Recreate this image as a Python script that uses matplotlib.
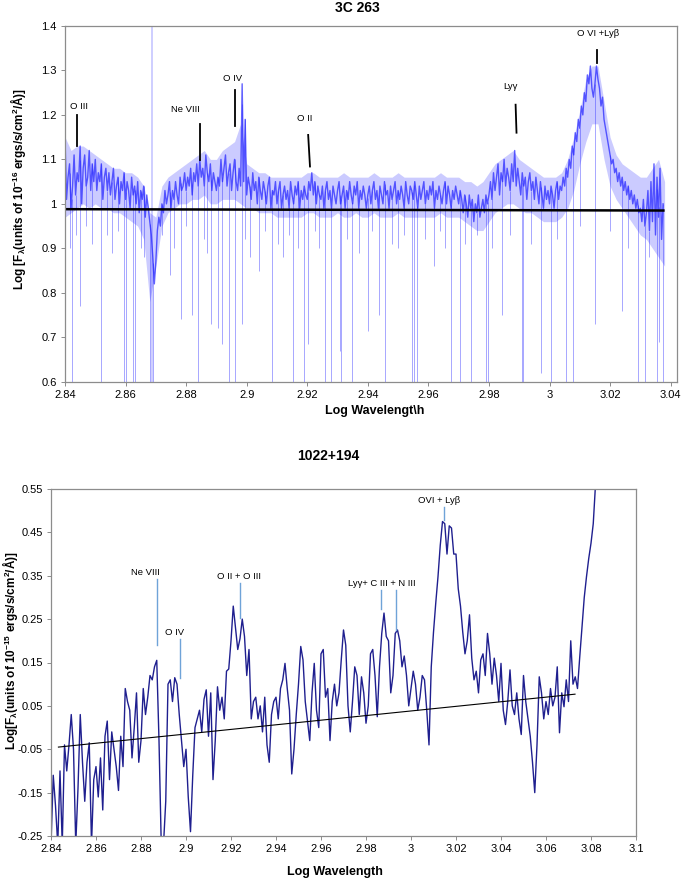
import numpy as np
import matplotlib
matplotlib.use('Agg')
import matplotlib.pyplot as plt
from matplotlib.ticker import MultipleLocator, FuncFormatter

plt.rcParams['font.family'] = 'Liberation Sans'
plt.rcParams['mathtext.fontset'] = 'custom'
plt.rcParams['mathtext.rm'] = 'Liberation Sans:bold'
plt.rcParams['mathtext.it'] = 'Liberation Sans:bold'
plt.rcParams['mathtext.bf'] = 'Liberation Sans:bold'
plt.rcParams['mathtext.default'] = 'regular'

# ---- 3C 263 (top) : log wavelength 2.8400 .. 3.0375, step 0.0005
top_wl_start = 2.84
top_wl_step = 0.0005
top_flux = [
    1.15, 1.01, 1.06, 1.09, 0.99, 1.04, 1.11, 1.02, 1.07, 1.05, 1.13, 1.00, 1.08, 1.11, 1.04, 1.06, 1.12, 1.03, 1.09, 1.05,
    1.10, 1.03, 1.07, 1.05, 1.09, 1.01, 1.06, 1.08, 1.03, 1.07, 1.02, 1.05, 1.08, 1.01, 1.04, 1.06, 1.00, 1.05, 1.03, 1.07,
    1.01, 1.05, 1.03, 0.99, 1.06, 1.02, 1.04, 1.00, 1.05, 0.98, 1.03, 1.01, 1.04, 0.97, 1.02, 0.99, 0.96, 0.93, 0.88, 0.82,
    0.87, 0.94, 0.97, 0.95, 1.00, 0.98, 1.03, 1.00, 1.02, 1.05, 0.99, 1.03, 1.01, 1.05, 1.02, 1.00, 1.06, 1.03, 1.04, 1.07,
    1.03, 1.06, 1.04, 1.08, 1.02, 1.07, 1.05, 1.09, 1.04, 1.10, 1.06, 1.08, 1.04, 1.11, 1.07, 1.05, 1.09, 1.03, 1.07, 1.05,
    1.03, 1.06, 1.04, 1.10, 1.05, 1.08, 1.11, 1.04, 1.07, 1.09, 1.03, 1.07, 1.10, 1.05, 1.03, 1.08, 1.04, 1.27, 1.05, 1.19,
    1.02, 1.06, 1.04, 1.01, 1.07, 1.03, 1.05, 1.00, 1.06, 1.03, 1.01, 1.05, 1.03, 1.00, 1.04, 1.06, 0.99, 1.03, 1.02, 1.05,
    1.00, 1.03, 1.05, 0.99, 1.02, 1.04, 1.01, 1.03, 0.99, 1.05, 1.02, 1.00, 1.04, 1.02, 1.05, 0.99, 1.03, 1.01, 1.04, 1.02,
    1.01, 1.05, 1.03, 1.07, 1.02, 1.05, 1.00, 1.04, 1.02, 1.01, 1.04, 0.99, 1.03, 1.05, 1.01, 1.03, 0.99, 1.04, 1.02, 1.00,
    1.03, 1.05, 1.00, 1.02, 1.04, 0.99, 1.03, 1.01, 1.05, 1.02, 1.00, 1.04, 1.02, 1.05, 0.99, 1.03, 1.01, 1.04, 1.02, 0.99,
    1.02, 1.04, 1.00, 1.03, 1.05, 1.01, 1.03, 0.99, 1.04, 1.02, 1.00, 1.05, 1.02, 1.03, 0.99, 1.04, 1.01, 1.03, 1.05, 1.00,
    1.03, 1.01, 1.04, 1.02, 0.99, 1.05, 1.02, 1.00, 1.04, 1.03, 1.01, 1.05, 1.02, 0.99, 1.04, 1.01, 1.03, 1.05, 1.00, 1.03,
    1.01, 1.04, 1.02, 1.05, 0.99, 1.03, 1.01, 1.04, 1.02, 1.00, 1.03, 1.05, 1.00, 1.04, 1.02, 0.99, 1.03, 1.01, 1.04, 1.02,
    1.00, 1.03, 1.01, 0.98, 1.02, 1.00, 0.97, 1.02, 0.99, 1.01, 0.96, 1.00, 0.98, 1.02, 0.97, 0.99, 1.01, 0.98, 1.02, 1.00,
    1.02, 1.05, 1.01, 1.07, 1.03, 1.06, 1.09, 1.02, 1.07, 1.05, 1.10, 1.04, 1.08, 1.06, 1.03, 1.09, 1.05, 1.12, 1.04, 1.08,
    1.05, 1.02, 1.07, 1.04, 1.06, 1.01, 1.05, 1.07, 1.03, 1.05, 1.01, 1.06, 1.03, 1.00, 1.05, 1.02, 0.99, 1.04, 1.01, 1.03,
    1.00, 1.04, 1.02, 0.99, 1.03, 1.05, 1.01, 1.04, 1.03, 1.06, 1.04, 1.08, 1.06, 1.10, 1.08, 1.13, 1.11, 1.16, 1.14, 1.19,
    1.17, 1.22, 1.20, 1.25, 1.23, 1.29, 1.27, 1.31, 1.26, 1.24, 1.27, 1.31, 1.28, 1.26, 1.22, 1.24, 1.19, 1.17, 1.15, 1.13,
    1.11, 1.09, 1.10, 1.07, 1.08, 1.05, 1.07, 1.04, 1.06, 1.03, 1.05, 1.02, 1.04, 1.01, 1.03, 1.00, 1.02, 0.99, 1.01, 0.98,
    0.99, 0.96, 1.01, 0.95, 0.98, 1.03, 0.94, 1.05, 0.96, 1.09, 0.93, 1.06, 0.97, 1.08, 0.92, 1.00,
]

# outer noise envelope of the 3C 263 spectrum, step 0.002 from 2.840
top_env_step = 0.002
top_env_hi = [
    1.15, 1.12, 1.13, 1.13, 1.12, 1.11, 1.10, 1.09, 1.08, 1.08,
    1.07, 1.07, 1.06, 1.04, 0.98, 0.97, 1.04, 1.06, 1.07, 1.08,
    1.09, 1.10, 1.11, 1.12, 1.10, 1.10, 1.12, 1.13, 1.14, 1.18,
    1.09, 1.08, 1.07, 1.07, 1.06, 1.06, 1.06, 1.06, 1.06, 1.06,
    1.07, 1.07, 1.06, 1.06, 1.06, 1.06, 1.07, 1.06, 1.06, 1.06,
    1.06, 1.07, 1.06, 1.06, 1.06, 1.07, 1.06, 1.06, 1.06, 1.06,
    1.06, 1.06, 1.07, 1.06, 1.06, 1.06, 1.05, 1.05, 1.04, 1.05,
    1.07, 1.09, 1.10, 1.11, 1.12, 1.10, 1.09, 1.08, 1.07, 1.06,
    1.06, 1.06, 1.07, 1.10, 1.15, 1.21, 1.28, 1.31, 1.31, 1.23,
    1.15, 1.11, 1.09, 1.08, 1.07, 1.06, 1.06, 1.08, 1.10, 1.05,
]
top_env_lo = [
    0.97, 0.98, 0.99, 1.00, 0.99, 1.00, 0.99, 0.99, 0.98, 0.98,
    0.97, 0.96, 0.95, 0.92, 0.78, 0.86, 0.95, 0.98, 0.99, 1.00,
    1.00, 1.01, 1.01, 1.02, 1.00, 1.00, 1.01, 1.01, 1.01, 1.00,
    0.99, 0.99, 0.98, 0.98, 0.98, 0.97, 0.97, 0.97, 0.97, 0.97,
    0.98, 0.98, 0.97, 0.97, 0.97, 0.98, 0.97, 0.97, 0.98, 0.97,
    0.97, 0.98, 0.97, 0.97, 0.97, 0.98, 0.97, 0.97, 0.97, 0.97,
    0.97, 0.97, 0.98, 0.97, 0.97, 0.97, 0.96, 0.95, 0.94, 0.94,
    0.96, 0.98, 0.99, 1.00, 1.00, 0.99, 0.98, 0.98, 0.97, 0.96,
    0.96, 0.96, 0.97, 0.99, 1.03, 1.09, 1.14, 1.18, 1.18, 1.10,
    1.04, 1.01, 0.99, 0.97, 0.95, 0.93, 0.92, 0.90, 0.88, 0.86,
]

# narrow absorption features (log wavelength, lowest value)
top_abs_wl = [2.8416, 2.8422, 2.8435, 2.8448, 2.8470, 2.8490, 2.8520, 2.8540, 2.8555, 2.8575,
              2.8595, 2.8602, 2.8624, 2.8631, 2.8650, 2.8660, 2.8681, 2.8691, 2.8720, 2.8747,
              2.8760, 2.8782, 2.8800, 2.8818, 2.8840, 2.8860, 2.8870, 2.8883, 2.8905, 2.8919,
              2.8940, 2.8960, 2.8984, 2.8995, 2.9010, 2.9040, 2.9060, 2.9085, 2.9105, 2.9120,
              2.9140, 2.9153, 2.9170, 2.9189, 2.9202, 2.9225, 2.9240, 2.9260, 2.9280, 2.9308,
              2.9313, 2.9330, 2.9349, 2.9370, 2.9399, 2.9415, 2.9438, 2.9456, 2.9480, 2.9500,
              2.9520, 2.9546, 2.9554, 2.9564, 2.9590, 2.9620, 2.9640, 2.9655, 2.9676, 2.9705,
              2.9720, 2.9741, 2.9760, 2.9789, 2.9796, 2.9810, 2.9842, 2.9870, 2.9908, 2.9914,
              2.9940, 2.9972, 3.0004, 3.0025, 3.0053, 3.0076, 3.0100, 3.0150, 3.0200, 3.0238,
              3.0260, 3.0292, 3.0315, 3.0330, 3.0354, 3.0361, 3.0376]
top_abs_min = [0.90, 0.60, 0.93, 0.77, 0.95, 0.91, 0.60, 0.93, 0.89, 0.94,
               0.60, 0.60, 0.60, 0.60, 0.90, 0.88, 0.60, 0.60, 0.93, 0.84,
               0.90, 0.74, 0.95, 0.75, 0.60, 0.92, 0.89, 0.73, 0.72, 0.685,
               0.60, 0.60, 0.73, 0.92, 0.88, 0.85, 0.94, 0.60, 0.91, 0.88,
               0.93, 0.60, 0.90, 0.60, 0.685, 0.94, 0.90, 0.60, 0.60, 0.67,
               0.60, 0.92, 0.60, 0.89, 0.715, 0.94, 0.75, 0.60, 0.91, 0.90,
               0.93, 0.60, 0.60, 0.60, 0.92, 0.86, 0.94, 0.90, 0.60, 0.60,
               0.91, 0.60, 0.93, 0.60, 0.60, 0.90, 0.75, 0.93, 0.60, 0.60,
               0.91, 0.62, 0.60, 0.92, 0.60, 0.60, 0.95, 0.73, 0.94, 0.76,
               0.90, 0.60, 0.60, 0.88, 0.60, 0.69, 0.60]
# bad-pixel spike crossing the whole panel
top_glitch_wl = [2.8683, 2.8687]

top_cont_wl = [2.8400, 3.0376]
top_cont_flux = [0.988, 0.985]

top_lines = ['O III', 'Ne VIII', 'O IV', 'O II', 'Lyγ', 'O VI +Lyβ']
top_line_x0 = [2.8440, 2.8846, 2.8961, 2.9203, 2.9888, 3.0158]
top_line_x1 = [2.8440, 2.8846, 2.8961, 2.9209, 2.9891, 3.0158]
top_line_y0 = [1.199, 1.179, 1.257, 1.155, 1.223, 1.347]
top_line_y1 = [1.131, 1.098, 1.174, 1.084, 1.160, 1.317]
top_label_x = [2.8445, 2.8798, 2.8954, 2.9193, 2.9871, 3.0161]
top_label_y = [1.218, 1.213, 1.282, 1.193, 1.263, 1.383]

# ---- 1022+194 (bottom) : log wavelength 2.840 .. 3.082, step 0.001
bot_wl_start = 2.84
bot_wl_step = 0.001
bot_flux = [
    -0.27, -0.11, -0.18, -0.27, -0.10, -0.27, -0.04, -0.10, -0.04, 0.03,
    -0.05, -0.27, -0.14, 0.03, -0.08, -0.17, -0.08, -0.035, -0.27, -0.12,
    -0.09, -0.16, -0.07, -0.19, -0.02, 0.015, -0.12, -0.01, -0.05, -0.09,
    -0.145, -0.02, -0.09, 0.09, 0.06, 0.04, -0.07, 0.0, 0.08, -0.08,
    -0.03, 0.09, 0.03, 0.07, 0.12, 0.11, 0.14, 0.155, -0.03, -0.27,
    -0.27, -0.17, 0.10, 0.11, 0.06, 0.115, 0.10, 0.03, -0.03, -0.09,
    -0.05, -0.16, -0.24, -0.11, 0.0, 0.02, 0.04, -0.01, 0.065, 0.087,
    -0.02, 0.08, -0.12, -0.03, 0.094, 0.04, 0.07, 0.02, 0.13, 0.135,
    0.20, 0.28, 0.23, 0.18, 0.205, 0.25, 0.21, 0.12, 0.18, 0.02,
    0.06, 0.07, 0.02, 0.05, -0.01, 0.07, -0.04, -0.08, 0.03, 0.06,
    0.07, 0.02, 0.09, 0.11, 0.148, 0.09, 0.04, -0.107, -0.05, 0.03,
    0.10, 0.187, 0.156, 0.06, 0.015, -0.03, 0.08, 0.148, 0.04, 0.0,
    0.17, 0.18, 0.07, 0.09, -0.03, 0.06, 0.10, 0.05, 0.08, 0.156,
    0.225, 0.19, 0.05, -0.01, 0.06, 0.14, 0.12, 0.03, 0.117, 0.08,
    0.01, 0.05, 0.17, 0.18, 0.12, 0.025, 0.14, 0.217, 0.264, 0.21,
    0.20, 0.08, 0.12, 0.217, 0.225, 0.20, 0.14, 0.165, 0.12, 0.05,
    0.09, 0.13, 0.10, 0.04, 0.07, 0.12, 0.11, 0.04, -0.04, 0.14,
    0.22, 0.287, 0.348, 0.42, 0.475, 0.47, 0.40, 0.465, 0.46, 0.40,
    0.40, 0.32, 0.28, 0.22, 0.17, 0.20, 0.26, 0.16, 0.11, 0.13,
    0.08, 0.156, 0.17, 0.12, 0.217, 0.17, 0.10, 0.16, 0.12, 0.06,
    0.148, 0.04, 0.007, 0.06, 0.133, 0.05, 0.03, 0.08, 0.02, -0.016,
    0.12, 0.06, 0.02, -0.02, -0.08, -0.15, -0.04, 0.117, 0.08, 0.02,
    0.06, 0.03, 0.09, 0.05, 0.07, 0.14, -0.012, 0.08, 0.048, 0.11,
    0.06, 0.20, 0.10, 0.117, 0.09, 0.163, 0.232, 0.30, 0.348, 0.39,
    0.425, 0.47, 0.56,
]

bot_cont_wl = [2.8433, 3.0729]
bot_cont_flux = [-0.045, 0.077]

bot_lines = ['Ne VIII', 'O IV', 'O II + O III', 'OVI + Lyβ']
bot_line_x = [2.8872, 2.8975, 2.9240, 3.0148]
bot_line_y0 = [0.342, 0.204, 0.333, 0.508]
bot_line_y1 = [0.190, 0.114, 0.252, 0.479]
bot_label_x = [2.8820, 2.8947, 2.9236, 3.0124]
bot_label_y = [0.358, 0.219, 0.349, 0.524]

# two ticks under the shared label "Lyγ+ C III + N III"
bot_pair_x = [2.9867, 2.9933]
bot_pair_y0 = [0.316, 0.316]
bot_pair_y1 = [0.273, 0.224]
bot_pair_label = 'Lyγ+ C III + N III'
bot_pair_label_x = 2.9870
bot_pair_label_y = 0.333


def fmt(v, pos):
    return '%g' % round(v, 4)


def style_axes(ax):
    for s in ax.spines.values():
        s.set_color('#8c8c8c')
        s.set_linewidth(0.9)
    ax.tick_params(direction='out', length=3, width=0.7, color='#8c8c8c',
                   labelsize=8, pad=3)
    ax.xaxis.set_major_formatter(FuncFormatter(fmt))
    ax.yaxis.set_major_formatter(FuncFormatter(fmt))


fig = plt.figure(figsize=(6.82, 8.81), dpi=100)

# ---------------- top panel
ax1 = fig.add_axes([65 / 682, 1 - 381.7 / 881, 611.7 / 682, 355.7 / 881])
wl = top_wl_start + top_wl_step * np.arange(len(top_flux))
flux = np.array(top_flux)
env_wl = top_wl_start + top_env_step * np.arange(len(top_env_hi))
blue = (0.12, 0.12, 1.0)
ax1.fill_between(env_wl, top_env_lo, top_env_hi, color=(0.55, 0.55, 1.0),
                 alpha=0.45, lw=0)
ax1.vlines(top_glitch_wl, 0.6, 1.4, color=blue, lw=0.6, alpha=0.25)
tops = np.interp(top_abs_wl, wl, flux)
ax1.vlines(top_abs_wl, top_abs_min, tops, color=blue, lw=0.6, alpha=0.45)
ax1.plot(wl, flux, color=blue, lw=1.0, alpha=0.7)
ax1.plot(top_cont_wl, top_cont_flux, color='black', lw=1.8)
for i, name in enumerate(top_lines):
    ax1.plot([top_line_x0[i], top_line_x1[i]], [top_line_y0[i], top_line_y1[i]],
             color='black', lw=1.3)
    ax1.text(top_label_x[i], top_label_y[i], name, fontsize=6.8,
             ha='center', va='center')
ax1.set_xlim(2.84, 3.042)
ax1.set_ylim(0.6, 1.4)
ax1.xaxis.set_major_locator(MultipleLocator(0.02))
ax1.yaxis.set_major_locator(MultipleLocator(0.1))
style_axes(ax1)

fig.text(357 / 682, 1 - 8 / 881, '3C 263', fontsize=10, fontweight='bold',
         ha='center', va='center')
fig.text(375 / 682, 1 - 411 / 881, 'Log Wavelengt\\h', fontsize=9,
         fontweight='bold', ha='center', va='center')
fig.text(18 / 682, 1 - 189 / 881,
         'Log [F$_λ$(units of 10$^{-16}$ ergs/s/cm$^2$/Å)]',
         fontsize=8.5, fontweight='bold', rotation=90, ha='center', va='center')

# ---------------- bottom panel
ax2 = fig.add_axes([51 / 682, 1 - 836 / 881, 585 / 682, 347 / 881])
wl2 = bot_wl_start + bot_wl_step * np.arange(len(bot_flux))
ax2.plot(wl2, bot_flux, color='#1f1f8f', lw=1.0)
ax2.plot(bot_cont_wl, bot_cont_flux, color='black', lw=0.8)
lblue = '#6fa3d8'
for i, name in enumerate(bot_lines):
    ax2.plot([bot_line_x[i], bot_line_x[i]], [bot_line_y0[i], bot_line_y1[i]],
             color=lblue, lw=1.0)
    ax2.text(bot_label_x[i], bot_label_y[i], name, fontsize=6.8,
             ha='center', va='center')
for i in range(len(bot_pair_x)):
    ax2.plot([bot_pair_x[i], bot_pair_x[i]], [bot_pair_y0[i], bot_pair_y1[i]],
             color=lblue, lw=1.0)
ax2.text(bot_pair_label_x, bot_pair_label_y, bot_pair_label, fontsize=6.8,
         ha='center', va='center')
ax2.set_xlim(2.84, 3.1)
ax2.set_ylim(-0.25, 0.55)
ax2.xaxis.set_major_locator(MultipleLocator(0.02))
ax2.set_yticks(np.arange(-0.25, 0.56, 0.1))
style_axes(ax2)

fig.text(328 / 682, 1 - 456 / 881, '1022+194', fontsize=10, fontweight='bold',
         ha='center', va='center')
fig.text(335 / 682, 1 - 872 / 881, 'Log Wavelength', fontsize=9,
         fontweight='bold', ha='center', va='center')
fig.text(10 / 682, 1 - 651 / 881,
         'Log[F$_λ$(units of 10$^{-15}$ ergs/s/cm$^2$/Å)]',
         fontsize=8.5, fontweight='bold', rotation=90, ha='center', va='center')

fig.savefig('out.png', dpi=100)
